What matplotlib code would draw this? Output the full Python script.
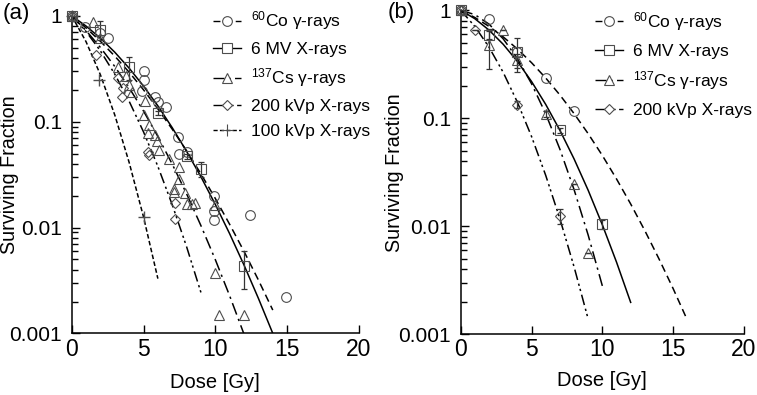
import matplotlib
matplotlib.use('Agg')
import matplotlib.pyplot as plt
import numpy as np
from matplotlib.lines import Line2D
from matplotlib.ticker import FixedLocator, FixedFormatter, LogLocator, NullFormatter

plt.rcParams['font.family'] = ['Liberation Sans', 'DejaVu Sans']
plt.rcParams['mathtext.fontset'] = 'custom'
plt.rcParams['mathtext.rm'] = 'Liberation Sans'
plt.rcParams['mathtext.default'] = 'regular'

# ---- panel (a): measured points ----
a_co_dose = [0, 0.9, 2.0, 2.5, 5.0, 5.0, 4.9, 5.8, 6.0, 6.6, 7.4, 7.5, 8.0, 9.9, 9.9, 9.9, 12.4, 14.9]
a_co_sf = [1.0, 0.79, 0.69, 0.62, 0.30, 0.25, 0.195, 0.17, 0.155, 0.139, 0.071, 0.050, 0.052,
           0.020, 0.0144, 0.0118, 0.013, 0.0022]
a_mv_dose = [0, 2, 4, 6, 8, 9, 12]
a_mv_sf = [1.0, 0.74, 0.33, 0.12, 0.047, 0.036, 0.0043]
a_mv_err = [0, 0.15, 0.08, 0.005, 0.003, 0.006, 0.0017]
a_cs_dose = [0, 1.5, 2.0, 3.2, 3.8, 4.0, 4.2, 5.1, 5.0, 5.4, 5.3, 5.8, 5.95, 6.1, 6.8, 7.5, 7.5,
             7.1, 7.1, 7.9, 8.0, 8.4, 8.6, 9.95, 9.95, 10.25, 12.0]
a_cs_sf = [1.0, 0.87, 0.62, 0.33, 0.27, 0.22, 0.19, 0.157, 0.116, 0.093, 0.078, 0.075, 0.065,
           0.054, 0.044, 0.037, 0.029, 0.023, 0.0215, 0.021, 0.0165, 0.0165, 0.017, 0.0163,
           0.0037, 0.0015, 0.0015]
a_kv200_dose = [0, 1.7, 3.2, 3.6, 3.5, 5.3, 5.4, 7.2, 7.2]
a_kv200_sf = [1.0, 0.43, 0.26, 0.21, 0.17, 0.052, 0.048, 0.017, 0.012]
a_kv100_dose = [0, 1.9, 5.0]
a_kv100_sf = [1.0, 0.25, 0.0125]

# ---- panel (a): fitted curves read at 1 Gy steps ----
a_co_fit_dose = list(range(0, 15))
a_co_fit = [1, 0.769, 0.574, 0.416, 0.293, 0.200, 0.132, 0.0849, 0.0530, 0.0321, 0.0188,
            0.0107, 0.00594, 0.00319, 0.00166]
a_mv_fit_dose = list(range(0, 15))
a_mv_fit = [1, 0.800, 0.615, 0.453, 0.320, 0.217, 0.141, 0.0877, 0.0524, 0.0301, 0.0165,
            0.00872, 0.00441, 0.00214, 0.00100]
a_cs_fit_dose = list(range(0, 13))
a_cs_fit = [1, 0.725, 0.502, 0.332, 0.209, 0.126, 0.0724, 0.0397, 0.0208, 0.0104, 0.00497,
            0.00226, 0.00098]
a_kv200_fit_dose = list(range(0, 10))
a_kv200_fit = [1, 0.711, 0.466, 0.281, 0.156, 0.0801, 0.0378, 0.0164, 0.00658, 0.00243]
a_kv100_fit_dose = list(range(0, 7))
a_kv100_fit = [1, 0.569, 0.277, 0.1156, 0.0412, 0.0126, 0.00329]

# ---- panel (b): measured points ----
b_co_dose = [0, 2, 4, 6, 8]
b_co_sf = [1.0, 0.83, 0.41, 0.236, 0.116]
b_mv_dose = [0, 2, 4, 7, 10]
b_mv_sf = [1.0, 0.59, 0.41, 0.0775, 0.0104]
b_mv_err = [0, 0.05, 0.14, 0.004, 0.001]
b_cs_dose = [0, 2, 3, 4, 6, 8, 9]
b_cs_sf = [1.0, 0.475, 0.65, 0.344, 0.11, 0.0248, 0.0057]
b_cs_err = [0, 0.19, 0, 0.05, 0.007, 0, 0]
b_kv200_dose = [0, 1, 4, 7]
b_kv200_sf = [1.0, 0.65, 0.134, 0.0125]
b_kv200_err = [0, 0, 0.01, 0.002]

# ---- panel (b): fitted curves ----
b_co_fit_dose = list(range(0, 17))
b_co_fit = [1, 0.857, 0.709, 0.567, 0.438, 0.327, 0.236, 0.1644, 0.1106, 0.0719, 0.0452,
            0.0274, 0.01607, 0.00910, 0.00498, 0.00264, 0.00135]
b_mv_fit_dose = list(range(0, 13))
b_mv_fit = [1, 0.835, 0.655, 0.484, 0.336, 0.219, 0.1344, 0.0775, 0.0421, 0.0215, 0.0103,
            0.00465, 0.00197]
b_cs_fit_dose = list(range(0, 11))
b_cs_fit = [1, 0.911, 0.744, 0.544, 0.357, 0.209, 0.110, 0.0518, 0.0219, 0.00827, 0.00280]
b_kv200_fit_dose = list(range(0, 10))
b_kv200_fit = [1, 0.708, 0.455, 0.266, 0.1409, 0.0678, 0.0296, 0.01174, 0.00422, 0.00138]

labels = [r'$^{60}$Co γ-rays', '6 MV X-rays', r'$^{137}$Cs γ-rays', '200 kVp X-rays',
          '100 kVp X-rays']
markers = ['o', 's', '^', 'D', '+']
styles = [(0, (5, 3)), '-', (0, (8, 3, 1.5, 3)), (0, (7, 2.5, 1.5, 2, 1.5, 2.5)), (0, (3, 1.6))]
msizes = [7, 7, 7, 5.5, 8]
mec = '#4d4d4d'


def setup_axes(ax, ylab_x, xlab_y):
    ax.set_yscale('log')
    ax.set_xlim(0, 20)
    ax.set_ylim(0.001, 1)
    ax.spines['top'].set_visible(False)
    ax.spines['right'].set_visible(False)
    for s in ['left', 'bottom']:
        ax.spines[s].set_linewidth(1.1)
    ax.xaxis.set_major_locator(FixedLocator([0, 5, 10, 15, 20]))
    ax.yaxis.set_major_locator(FixedLocator([0.001, 0.01, 0.1, 1]))
    ax.yaxis.set_major_formatter(FixedFormatter(['0.001', '0.01', '0.1', '1']))
    ax.yaxis.set_minor_locator(LogLocator(base=10, subs=np.arange(2, 10)))
    ax.yaxis.set_minor_formatter(NullFormatter())
    ax.tick_params(which='both', direction='in', width=1.0)
    ax.tick_params(which='major', length=6)
    ax.tick_params(which='minor', length=4)
    ax.tick_params(axis='y', pad=7, labelsize=15)
    ax.tick_params(axis='x', pad=3, labelsize=16.5)
    ax.set_xlabel('Dose [Gy]', fontsize=14.5)
    ax.set_ylabel('Surviving Fraction', fontsize=14.2)
    ax.xaxis.set_label_coords(0.5, xlab_y)
    ax.yaxis.set_label_coords(ylab_x, 0.5)


def points(ax, x, y, i, yerr=None):
    if yerr is not None:
        ax.errorbar(x, y, yerr=yerr, fmt='none', ecolor='#333333', elinewidth=0.9,
                    capsize=2.5, capthick=0.9, zorder=3)
    if markers[i] == '+':
        ax.plot(x, y, linestyle='none', marker='+', ms=msizes[i], mew=1.0, color=mec,
                clip_on=False, zorder=4)
    else:
        ax.plot(x, y, linestyle='none', marker=markers[i], ms=msizes[i], mew=0.8,
                mfc='none', mec=mec, clip_on=False, zorder=4)


def curve(ax, x, y, i):
    ax.plot(x, y, color='black', linestyle=styles[i], linewidth=1.1, zorder=2)


def legend(ax, n, fs, x, y, spacing):
    handles = []
    for i in range(n):
        handles.append(Line2D([0], [0], color='black', linestyle=styles[i], linewidth=1.0,
                              marker=markers[i], ms=msizes[i], mfc='white', mec=mec, mew=0.8))
    ax.legend(handles, labels[:n], loc='upper left', bbox_to_anchor=(x, y), frameon=False,
              fontsize=fs, handlelength=1.6, handletextpad=0.6, labelspacing=spacing,
              borderpad=0, borderaxespad=0)


fig = plt.figure(figsize=(7.57, 3.95), dpi=100)
ax1 = fig.add_axes([0.0947, 0.156, 0.3795, 0.804])
ax2 = fig.add_axes([0.6086, 0.154, 0.3742, 0.820])

setup_axes(ax1, -0.183, -0.125)
curve(ax1, a_co_fit_dose, a_co_fit, 0)
curve(ax1, a_mv_fit_dose, a_mv_fit, 1)
curve(ax1, a_cs_fit_dose, a_cs_fit, 2)
curve(ax1, a_kv200_fit_dose, a_kv200_fit, 3)
curve(ax1, a_kv100_fit_dose, a_kv100_fit, 4)
points(ax1, a_co_dose, a_co_sf, 0)
points(ax1, a_mv_dose, a_mv_sf, 1, a_mv_err)
points(ax1, a_cs_dose, a_cs_sf, 2)
points(ax1, a_kv200_dose, a_kv200_sf, 3)
points(ax1, a_kv100_dose, a_kv100_sf, 4)
legend(ax1, 5, 12.5, 0.492, 1.02, 0.55)

setup_axes(ax2, -0.20, -0.115)
curve(ax2, b_co_fit_dose, b_co_fit, 0)
curve(ax2, b_mv_fit_dose, b_mv_fit, 1)
curve(ax2, b_cs_fit_dose, b_cs_fit, 2)
curve(ax2, b_kv200_fit_dose, b_kv200_fit, 3)
points(ax2, b_co_dose, b_co_sf, 0)
points(ax2, b_mv_dose, b_mv_sf, 1, b_mv_err)
points(ax2, b_cs_dose, b_cs_sf, 2, b_cs_err)
points(ax2, b_kv200_dose, b_kv200_sf, 3, b_kv200_err)
legend(ax2, 4, 12.5, 0.474, 1.0, 0.6)

fig.text(0.003, 0.967, '(a)', fontsize=16, va='center', ha='left')
fig.text(0.512, 0.968, '(b)', fontsize=16, va='center', ha='left')

fig.savefig('out.png', dpi=100)
